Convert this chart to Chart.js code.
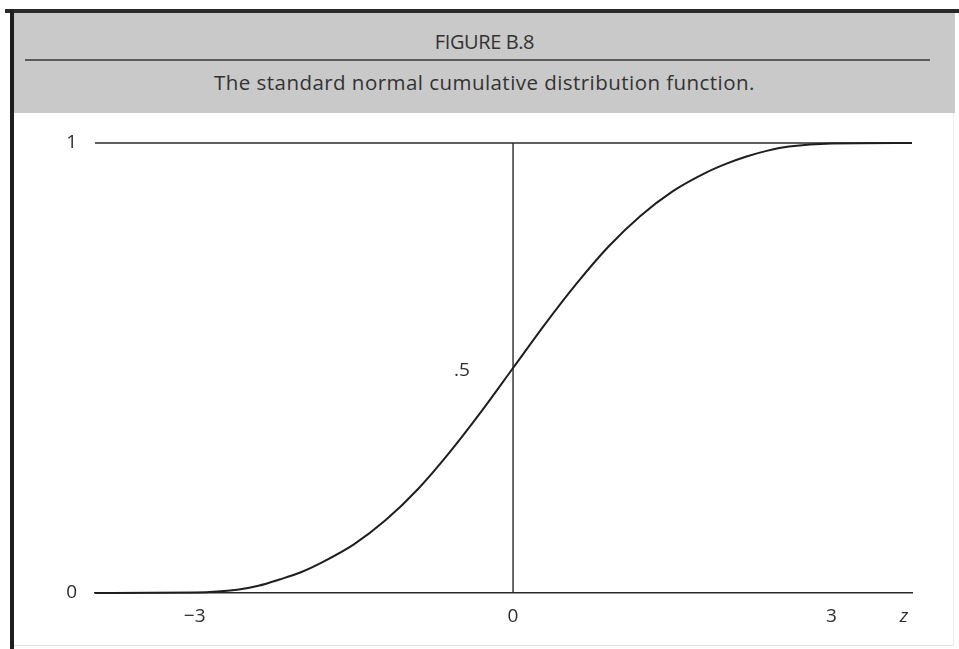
<!DOCTYPE html>
<html>
<head>
<meta charset="utf-8">
<script src="https://cdn.jsdelivr.net/npm/chart.js@4/dist/chart.umd.min.js"></script>
<style>
  html, body { margin: 0; padding: 0; background: #fff; }
  body { width: 959px; height: 649px; position: relative; overflow: hidden; font-family: "Open Sans", "DejaVu Sans", sans-serif; }
  #topBorder { position: absolute; left: 5px; top: 9px; width: 954px; height: 4px; background: #2a2a2a; }
  #leftBorder { position: absolute; left: 10px; top: 9px; width: 4px; height: 640px; background: #1e1e1e; }
  #header { position: absolute; left: 14px; top: 13px; width: 941px; height: 100px; background: #c9c9c9; }
  #sep { position: absolute; left: 25px; top: 59px; width: 905px; height: 2px; background: #5a5a5a; }
  #fig { position: absolute; left: 14px; top: 29px; width: 941px; text-align: center; font-size: 20px; line-height: 26px; color: #333; letter-spacing: -0.4px; }
  #sub { position: absolute; left: 14px; top: 69px; width: 941px; text-align: center; font-size: 20.5px; line-height: 26px; color: #333; letter-spacing: 0.45px; }
  #bottomLine { position: absolute; left: 14px; top: 645px; width: 940px; height: 1px; background: #e4e4e4; }
  #rightLine { position: absolute; left: 953px; top: 113px; width: 1px; height: 533px; background: #ececec; }
  #c { position: absolute; left: 0; top: 0; }
</style>
</head>
<body>
<div id="topBorder"></div>
<div id="header"></div>
<div id="leftBorder"></div>
<div id="sep"></div>
<div id="fig">FIGURE B.8</div>
<div id="sub">The standard normal cumulative distribution function.</div>
<div id="bottomLine"></div>
<div id="rightLine"></div>
<canvas id="c" width="959" height="649"></canvas>
<script>
// z values and the cumulative probability
const zValues   = [-3.94, -3.0, -2.6, -2.4, -2.2, -2.0, -1.8, -1.5, -1.2, -0.9, -0.6, -0.3, 0.0, 0.3, 0.6, 0.9, 1.2, 1.5, 1.8, 2.0, 2.2, 2.4, 2.6, 3.0, 3.76];
const cdfValues = [0.0, 0.001, 0.007, 0.016, 0.030, 0.046, 0.068, 0.108, 0.162, 0.230, 0.312, 0.403, 0.5, 0.597, 0.688, 0.770, 0.838, 0.892, 0.932, 0.953, 0.970, 0.983, 0.992, 0.999, 1.0];
const xTicks = [-3, 0, 3];
const xTickLabels = ['\u22123', '0', '3'];
const yTicks = [0, 1];
const yTickLabels = ['0', '1'];
const midLabel = { value: 0.5, text: '.5' };
const axisName = 'z';
const xMin = -3.94, xMax = 3.76;

const curve = zValues.map((z, i) => ({ x: z, y: cdfValues[i] }));
const topLine = [{ x: xMin, y: 1 }, { x: xMax, y: 1 }];
const vLine = [{ x: 0, y: 0 }, { x: 0, y: 1 }];

const labelColor = '#2e2e2e';
const fontFam = '"Open Sans", "DejaVu Sans", sans-serif';

const extraText = {
  id: 'extraText',
  afterDraw(chart) {
    const { ctx, scales } = chart;
    ctx.save();
    ctx.fillStyle = labelColor;
    ctx.font = '19px ' + fontFam;
    ctx.textAlign = 'center';
    ctx.textBaseline = 'middle';
    ctx.fillText(midLabel.text, scales.x.getPixelForValue(0) - 51, scales.y.getPixelForValue(midLabel.value) + 3);
    ctx.font = 'italic 19px ' + fontFam;
    ctx.fillText(axisName, chart.chartArea.right - 8, chart.chartArea.bottom + 24);
    ctx.restore();
  }
};

new Chart(document.getElementById('c'), {
  type: 'scatter',
  data: {
    datasets: [
      { data: curve, showLine: true, borderColor: '#1e1e1e', borderWidth: 2, pointRadius: 0, cubicInterpolationMode: 'monotone', fill: false },
      { data: topLine, showLine: true, borderColor: '#2a2a2a', borderWidth: 1.6, pointRadius: 0, fill: false },
      { data: vLine, showLine: true, borderColor: '#2a2a2a', borderWidth: 1.4, pointRadius: 0, fill: false }
    ]
  },
  options: {
    responsive: false,
    animation: false,
    clip: false,
    layout: { padding: { left: 0, right: 47, top: 143, bottom: 0 } },
    plugins: { legend: { display: false }, tooltip: { enabled: false }, title: { display: false } },
    scales: {
      x: {
        type: 'linear', min: xMin, max: xMax,
        afterBuildTicks: (s) => { s.ticks = xTicks.map(v => ({ value: v })); },
        afterFit: (s) => { s.height = 56; },
        grid: { display: false, drawTicks: false },
        border: { display: true, color: '#2a2a2a', width: 1.6 },
        ticks: {
          padding: 12, color: labelColor, font: { size: 19, family: fontFam },
          callback: (v) => { const i = xTicks.indexOf(v); return i >= 0 ? xTickLabels[i] : ''; }
        }
      },
      y: {
        type: 'linear', min: 0, max: 1,
        afterBuildTicks: (s) => { s.ticks = yTicks.map(v => ({ value: v })); },
        afterFit: (s) => { s.width = 95; },
        grid: { display: false, drawTicks: false },
        border: { display: false },
        ticks: {
          padding: 18, color: labelColor, font: { size: 19, family: fontFam },
          callback: (v) => { const i = yTicks.indexOf(v); return i >= 0 ? yTickLabels[i] : ''; }
        }
      }
    }
  },
  plugins: [extraText]
});
</script>
</body>
</html>
